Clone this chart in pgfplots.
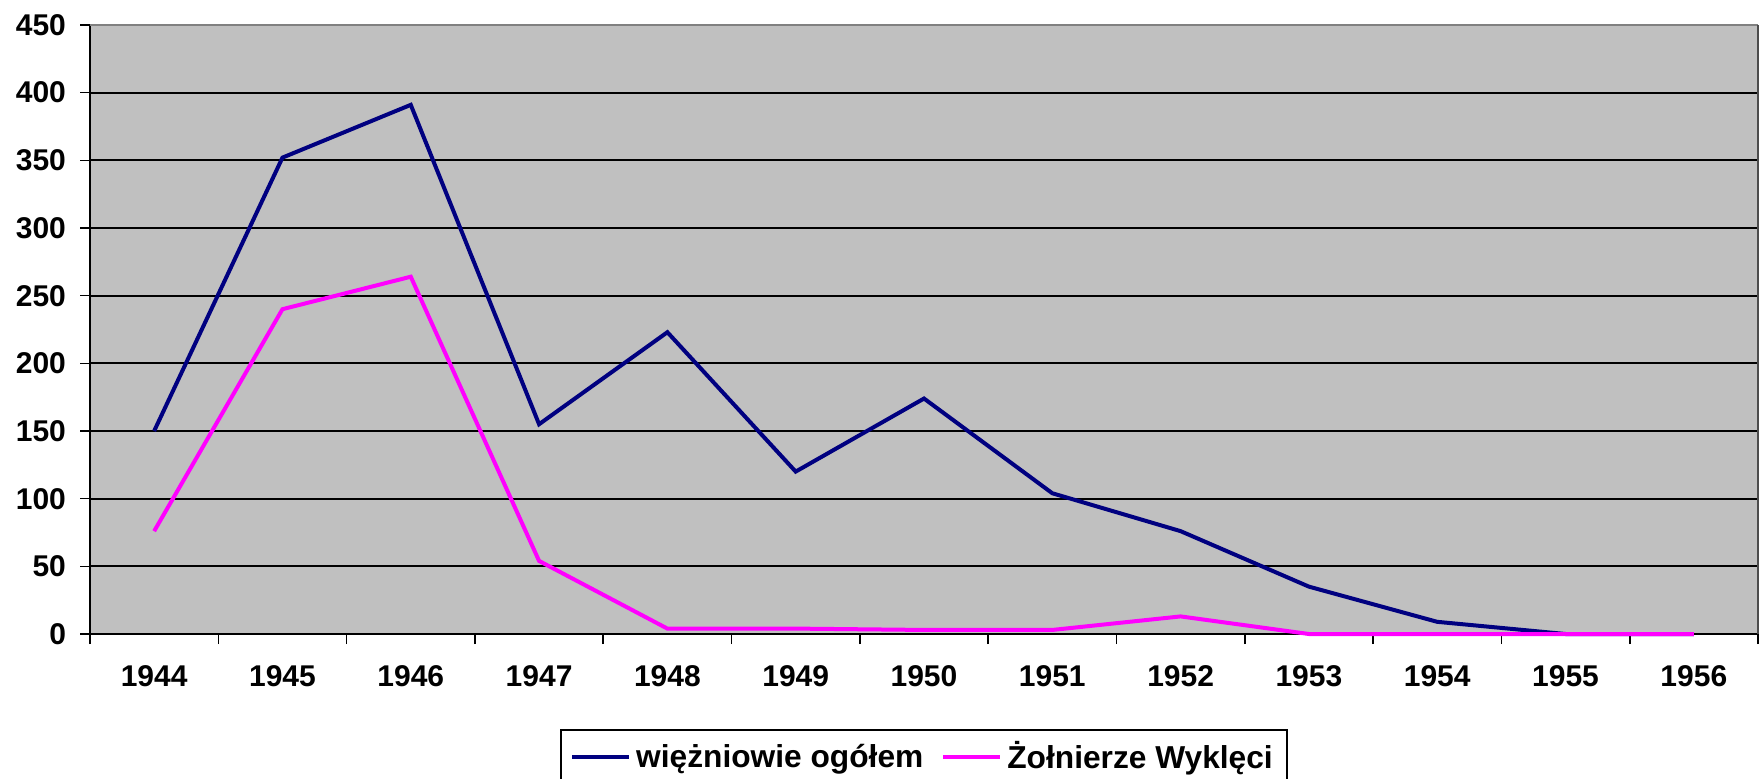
\documentclass[border=0pt]{standalone}
\usepackage{pgfplots}
\pgfplotsset{compat=1.18}
\usepackage{fontspec}
\setmainfont{Liberation Sans}
\definecolor{navyline}{HTML}{000080}
\definecolor{magline}{HTML}{FF00FF}
\definecolor{plotbg}{HTML}{C0C0C0}
\begin{document}
\begin{tikzpicture}
\begin{axis}[
  scale only axis,
  width=834pt, height=304.5pt,
  xmin=-0.5, xmax=12.5,
  ymin=0, ymax=450,
  ytick={0,50,...,450},
  xtick={-0.5,0.5,1.5,2.5,3.5,4.5,5.5,6.5,7.5,8.5,9.5,10.5,11.5,12.5},
  xticklabels={1944,1945,1946,1947,1948,1949,1950,1951,1952,1953,1954,1955,1956},
  x tick label as interval,
  axis lines=left,
  axis line style={-, black, line width=0.9pt},
  axis background/.style={fill=plotbg},
  ymajorgrids,
  grid style={black, line width=0.85pt},
  tick align=outside,
  major tick length=5pt,
  tick style={black, line width=0.8pt},
  /pgf/number format/assume math mode=true,
  tick label style={font=\fontsize{15}{18}\selectfont\bfseries},
  yticklabel style={xshift=-3.5pt},
  xticklabel style={yshift=-7pt},
  legend style={at={(0.5,0)}, anchor=north, yshift=-47.5pt, draw=black, line width=0.8pt,
    font=\fontsize{15.85}{18}\selectfont\bfseries, legend columns=2,
    inner xsep=4.5pt, inner ysep=4pt,
    nodes={inner xsep=2.5pt, inner ysep=2pt},
    /tikz/every even column/.append style={column sep=6.5pt}},
  legend cell align=left,
  legend image code/.code={\draw[#1] (0pt,0pt) -- (28.5pt,0pt);},
  clip=false,
]
\addplot[navyline, line width=2pt] coordinates {
(0,150) (1,352) (2,391) (3,155) (4,223) (5,120) (6,174) (7,104) (8,76) (9,35) (10,9) (11,0) (12,0)};
\addlegendentry{więżniowie ogółem}
\addplot[magline, line width=2pt] coordinates {
(0,76) (1,240) (2,264) (3,54) (4,4) (5,4) (6,3) (7,3) (8,13) (9,0) (10,0) (11,0) (12,0)};
\addlegendentry{Żołnierze Wyklęci}
\draw[gray, line width=0.9pt] (rel axis cs:0,1) -- (rel axis cs:1,1);
\draw[black!70, line width=0.9pt] (rel axis cs:1,1) -- (rel axis cs:1,0);
\coordinate (bl) at (rel axis cs:0,0);
\coordinate (tr) at (rel axis cs:1,1);
\end{axis}
\pgfresetboundingbox
\path ([xshift=-45pt,yshift=-72pt]bl) rectangle ([xshift=1pt,yshift=12.5pt]tr);
\end{tikzpicture}
\end{document}
